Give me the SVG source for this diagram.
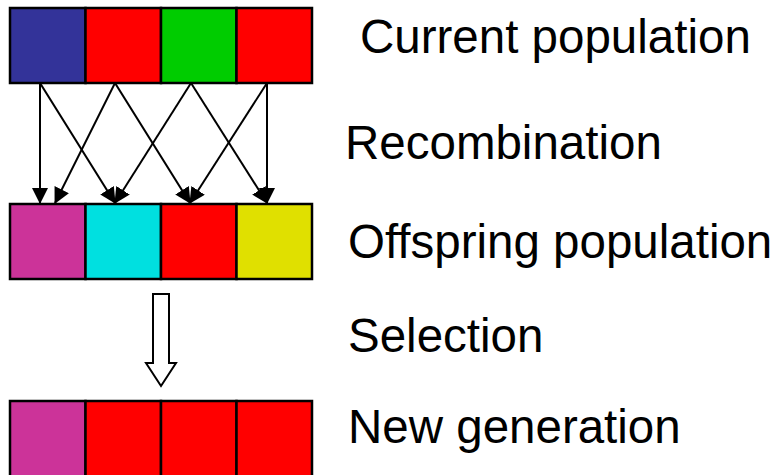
<svg xmlns="http://www.w3.org/2000/svg" width="779" height="475" viewBox="0 0 779 475">
<style>
.cell{stroke:#000;stroke-width:2.5}
.lbl{font-family:"Liberation Sans",Arial,sans-serif;font-size:47.5px;fill:#000}
.conn{stroke:#000;stroke-width:2;fill:none;marker-end:url(#ah)}
</style>
<defs>
<marker id="ah" markerUnits="userSpaceOnUse" markerWidth="16" markerHeight="16" viewBox="0 0 16 16" refX="15" refY="8" orient="auto">
<path d="M0,0 L16,8 L0,16 z" fill="#000"/>
</marker>
</defs>
<rect width="779" height="475" fill="#fff"/>
<g id="current-population">
<rect class="cell" x="10" y="8" width="75.5" height="75" fill="#333399"/>
<rect class="cell" x="85.5" y="8" width="75.5" height="75" fill="#FF0000"/>
<rect class="cell" x="161" y="8" width="75.5" height="75" fill="#00CC00"/>
<rect class="cell" x="236.5" y="8" width="75.5" height="75" fill="#FF0000"/>
</g>
<g id="offspring-population">
<rect class="cell" x="10" y="204" width="75.5" height="75" fill="#CC3399"/>
<rect class="cell" x="85.5" y="204" width="75.5" height="75" fill="#00E0E0"/>
<rect class="cell" x="161" y="204" width="75.5" height="75" fill="#FF0000"/>
<rect class="cell" x="236.5" y="204" width="75.5" height="75" fill="#E0E000"/>
</g>
<g id="new-generation">
<rect class="cell" x="10" y="401" width="75.5" height="80" fill="#CC3399"/>
<rect class="cell" x="85.5" y="401" width="75.5" height="80" fill="#FF0000"/>
<rect class="cell" x="161" y="401" width="75.5" height="80" fill="#FF0000"/>
<rect class="cell" x="236.5" y="401" width="75.5" height="80" fill="#FF0000"/>
</g>
<g id="connectors">
<line class="conn" x1="40" y1="83" x2="40" y2="203"/>
<line class="conn" x1="40" y1="83" x2="115" y2="203"/>
<line class="conn" x1="115" y1="83" x2="55" y2="203"/>
<line class="conn" x1="115" y1="83" x2="190" y2="203"/>
<line class="conn" x1="191" y1="83" x2="115" y2="203"/>
<line class="conn" x1="191" y1="83" x2="267" y2="203"/>
<line class="conn" x1="267" y1="83" x2="190" y2="203"/>
<line class="conn" x1="267" y1="83" x2="267" y2="203"/>
<polygon id="selection-arrow" points="153,294 169,294 169,363 176,363 161,386 146,363 153,363" fill="#fff" stroke="#000" stroke-width="2"/>
</g>
<g id="labels">
<text class="lbl" x="360" y="53">Current population</text>
<text class="lbl" x="345" y="159">Recombination</text>
<text class="lbl" x="348" y="258">Offspring population</text>
<text class="lbl" x="348" y="352">Selection</text>
<text class="lbl" x="348" y="443">New generation</text>
</g>
</svg>
